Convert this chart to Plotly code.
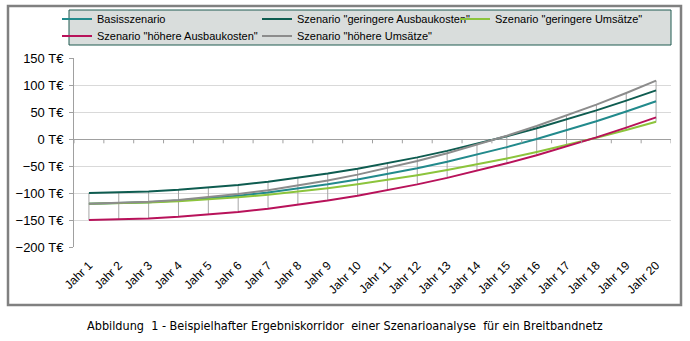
import plotly.graph_objects as go

years = [f"Jahr {i}" for i in range(1, 21)]

basis = [-120, -119, -117, -114, -110, -105, -99, -92, -84, -75,
         -65, -54, -42, -29, -15, 0, 16, 33, 51, 70]
ger_ausbau = [-100, -99, -97, -94, -90, -85, -79, -72, -64, -55,
              -45, -34, -22, -9, 5, 20, 36, 53, 71, 90]
ger_umsatz = [-120, -119.2, -117.6, -115.2, -112, -108, -103.2, -97.6, -91.2, -84,
              -76, -67.2, -57.6, -47.2, -36, -24, -11.2, 2.4, 16.8, 32]
hoe_ausbau = [-150, -149, -147, -144, -140, -135, -129, -122, -114, -105,
              -95, -84, -72, -59, -45, -30, -14, 3, 21, 40]
hoe_umsatz = [-120, -118.8, -116.4, -112.8, -108, -102, -94.8, -86.4, -76.8, -66,
              -54, -40.8, -26.4, -10.8, 6, 24, 43.2, 63.6, 85.2, 108]

series = [
    ("Basisszenario", basis, "#228a8c", "legend"),
    ('Szenario "geringere Ausbaukosten"', ger_ausbau, "#0e5c50", "legend2"),
    ('Szenario "geringere Umsätze"', ger_umsatz, "#8cc43c", "legend3"),
    ('Szenario "höhere Ausbaukosten"', hoe_ausbau, "#b8125a", "legend4"),
    ('Szenario "höhere Umsätze"', hoe_umsatz, "#8c8c8c", "legend5"),
]

W, H = 690, 341
L, R, T, B = 74, 19, 58, 94
pw, ph = W - L - R, H - T - B

def px(x):
    return (x - L) / pw

def py(y):
    return (H - B - y) / ph

fig = go.Figure()

# high-low lines
hx, hy = [], []
allv = [basis, ger_ausbau, ger_umsatz, hoe_ausbau, hoe_umsatz]
for i, yr in enumerate(years):
    vals = [s[i] for s in allv]
    hx += [yr, yr, None]
    hy += [max(vals), min(vals), None]
fig.add_trace(go.Scatter(x=hx, y=hy, mode="lines", line=dict(color="#a6a6a6", width=1),
                         showlegend=False, hoverinfo="skip"))

for name, vals, col, lg in series:
    fig.add_trace(go.Scatter(x=years, y=vals, mode="lines", name=name,
                             line=dict(color=col, width=2), legend=lg))

shapes = []
# tick marks on the zero axis line
for i in range(len(years) + 1):
    shapes.append(dict(type="line", xref="x", yref="y", x0=i - 0.5, x1=i - 0.5,
                       y0=0, y1=-8, line=dict(color="#a0a0a0", width=1)))
# legend box
shapes.append(dict(type="rect", xref="paper", yref="paper", x0=px(69), x1=px(671),
                   y0=py(45), y1=py(10), fillcolor="#d9dddc",
                   line=dict(color="#1f5a50", width=1), layer="below"))
# outer frame
shapes.append(dict(type="rect", xref="paper", yref="paper", x0=px(8), x1=px(681),
                   y0=py(305), y1=py(6), line=dict(color="#808080", width=2.5),
                   layer="below"))

FAM = "Arial, Liberation Sans, sans-serif"
legfont = dict(family=FAM, size=11, color="#000")
leg_common = dict(bgcolor="rgba(0,0,0,0)", borderwidth=0, font=legfont,
                  yanchor="middle", xanchor="left", orientation="v",
                  tracegroupgap=0, itemwidth=30)

row1, row2 = 19, 36
col1, col2, col3 = 57, 257, 455

fig.update_layout(
    width=W, height=H,
    margin=dict(l=L, r=R, t=T, b=B, pad=0, autoexpand=False),
    paper_bgcolor="white", plot_bgcolor="white",
    font=dict(family=FAM, size=12, color="#000"),
    xaxis=dict(type="category", range=[-0.5, 19.5], showgrid=False, showline=False,
               zeroline=False, ticks="", tickangle=-45, ticklabelstandoff=8,
               tickfont=dict(family=FAM, size=12, color="#000")),
    yaxis=dict(range=[-200, 150], dtick=50, ticksuffix=" T€", showgrid=True,
               gridcolor="#d9d9d9", gridwidth=1, showline=True, linecolor="#a0a0a0",
               ticks="outside", ticklen=4, tickcolor="#a0a0a0", zeroline=True,
               zerolinecolor="#a0a0a0", zerolinewidth=1, ticklabelstandoff=3,
               tickfont=dict(family=FAM, size=13, color="#000")),
    legend=dict(x=px(col1), y=py(row1), **leg_common),
    legend2=dict(x=px(col2), y=py(row1), **leg_common),
    legend3=dict(x=px(col3), y=py(row1), **leg_common),
    legend4=dict(x=px(col1), y=py(row2), **leg_common),
    legend5=dict(x=px(col2), y=py(row2), **leg_common),
    shapes=shapes,
    annotations=[dict(text="Abbildung  1 - Beispielhafter Ergebniskorridor  einer Szenarioanalyse  für ein Breitbandnetz",
                      xref="paper", yref="paper", x=px(345), y=py(325),
                      xanchor="center", yanchor="middle", showarrow=False,
                      font=dict(family="DejaVu Sans Condensed, Liberation Sans Narrow", size=12.55, color="#000"))],
    showlegend=True,
)

fig.write_html("out.html")
